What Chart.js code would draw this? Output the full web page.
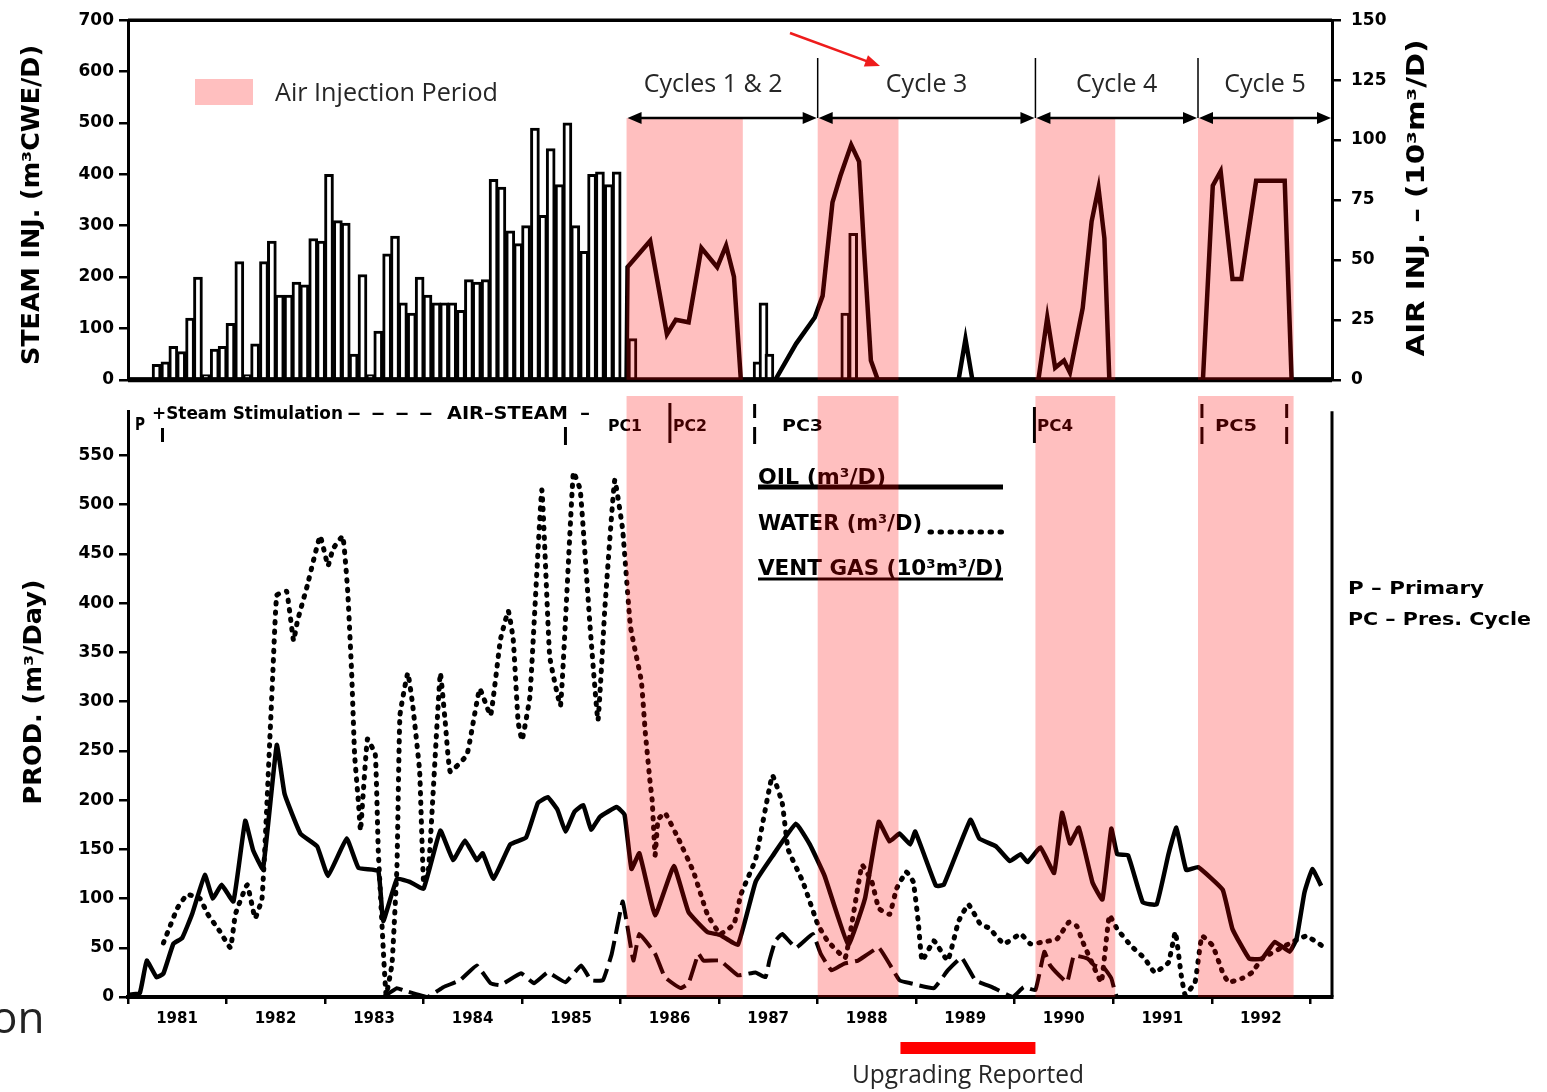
<!DOCTYPE html>
<html>
<head>
<meta charset="utf-8">
<script src="https://cdn.jsdelivr.net/npm/chart.js@4.4.0/dist/chart.umd.min.js"></script>
<style>
  body { margin: 0; background: #fff; width: 1547px; height: 1092px; position: relative; overflow: hidden; }
  canvas { position: absolute; left: 0; }
  #topChart { top: 0; }
  #bottomChart { top: 396px; }
  #on { position: absolute; left: -9px; top: 994px; font: 44px 'Open Sans', sans-serif; line-height: 44px; color: #222; }
</style>
</head>
<body>
<canvas id="topChart" width="1547" height="400"></canvas>
<canvas id="bottomChart" width="1547" height="696"></canvas>
<div id="on">on</div>
<script>
// ---- data ----
const yearTicks = [1981, 1982, 1983, 1984, 1985, 1986, 1987, 1988, 1989, 1990, 1991, 1992, 1993];
const yearNames = ['1981', '1982', '1983', '1984', '1985', '1986', '1987', '1988', '1989', '1990', '1991', '1992'];
const steamTicks = [0, 100, 200, 300, 400, 500, 600, 700];
const airTicks = [0, 25, 50, 75, 100, 125, 150];
const prodTicks = [0, 50, 100, 150, 200, 250, 300, 350, 400, 450, 500, 550];

// steam injection (m3 CWE/D), roughly monthly bars
const steamYears = [
  1981.29, 1981.38, 1981.46, 1981.54, 1981.63, 1981.71, 1981.79, 1981.88, 1981.96,
  1982.04, 1982.13, 1982.21, 1982.29, 1982.38, 1982.46, 1982.54, 1982.63, 1982.71, 1982.79, 1982.88, 1982.96,
  1983.04, 1983.13, 1983.21, 1983.29, 1983.38, 1983.46, 1983.54, 1983.63, 1983.71, 1983.79, 1983.88, 1983.96,
  1984.04, 1984.13, 1984.21, 1984.29, 1984.38, 1984.46, 1984.54, 1984.63, 1984.71, 1984.79, 1984.88, 1984.96,
  1985.04, 1985.13, 1985.21, 1985.29, 1985.38, 1985.46, 1985.54, 1985.63, 1985.71, 1985.79, 1985.88, 1985.96,
  1986.12, 1987.39, 1987.45, 1987.51, 1988.28, 1988.36
];
const steamValues = [
  30, 35, 65, 55, 120, 200, 10, 60, 65,
  110, 230, 10, 70, 230, 270, 165, 165, 190, 185, 275, 270,
  400, 310, 305, 50, 205, 10, 95, 245, 280, 150, 130, 200,
  165, 150, 150, 150, 135, 195, 190, 195, 390, 375, 290, 265,
  300, 490, 320, 450, 380, 500, 300, 250, 400, 405, 380, 405,
  80, 35, 150, 50, 130, 285
];

// air injection (10^3 m3/D)
const airYears = [
  1981.00, 1986.06, 1986.07, 1986.30, 1986.47, 1986.56, 1986.69, 1986.82, 1986.98, 1987.07,
  1987.15, 1987.22, 1987.57, 1987.78, 1987.97, 1988.05, 1988.15, 1988.23, 1988.34, 1988.42,
  1988.47, 1988.54, 1988.61, 1989.43, 1989.50, 1989.57, 1990.24, 1990.33, 1990.41, 1990.50,
  1990.56, 1990.69, 1990.78, 1990.85, 1990.91, 1990.96, 1991.91, 1992.01, 1992.09, 1992.21,
  1992.30, 1992.45, 1992.74, 1992.81, 1993.22
];
const airValues = [
  0, 0, 47, 58, 19, 25, 24, 55, 47, 56,
  43, 0, 0, 15, 26, 35, 74, 85, 98, 91,
  55, 8, 0, 0, 17, 0, 0, 26, 5, 8,
  3, 30, 66, 80, 59, 0, 0, 81, 87, 42,
  42, 83, 83, 0, 0
];

// oil production (m3/D)
const oilYears = [
  1981.00, 1981.12, 1981.19, 1981.29, 1981.36, 1981.46, 1981.55, 1981.65, 1981.78, 1981.86,
  1981.95, 1982.07, 1982.19, 1982.27, 1982.37, 1982.51, 1982.59, 1982.75, 1982.92, 1983.03,
  1983.22, 1983.34, 1983.54, 1983.59, 1983.73, 1983.86, 1984.00, 1984.17, 1984.30, 1984.42,
  1984.54, 1984.60, 1984.71, 1984.88, 1985.04, 1985.16, 1985.26, 1985.36, 1985.44, 1985.53,
  1985.62, 1985.70, 1985.79, 1985.96, 1986.04, 1986.11, 1986.19, 1986.35, 1986.54, 1986.69,
  1986.88, 1987.01, 1987.19, 1987.37, 1987.54, 1987.78, 1987.92, 1988.07, 1988.31, 1988.48,
  1988.62, 1988.73, 1988.83, 1988.94, 1988.99, 1989.20, 1989.28, 1989.55, 1989.64, 1989.81,
  1989.95, 1990.06, 1990.13, 1990.26, 1990.40, 1990.48, 1990.56, 1990.65, 1990.79, 1990.89,
  1990.98, 1991.04, 1991.15, 1991.30, 1991.44, 1991.56, 1991.64, 1991.74, 1991.86, 1992.11,
  1992.21, 1992.38, 1992.51, 1992.64, 1992.79, 1992.86, 1992.94, 1993.02, 1993.11
];
const oilValues = [
  2, 4, 37, 20, 24, 54, 60, 84, 124, 100,
  114, 97, 179, 149, 130, 256, 206, 166, 153, 123,
  161, 131, 128, 77, 120, 117, 110, 169, 139, 159,
  139, 146, 120, 155, 162, 197, 203, 190, 168, 188,
  195, 170, 183, 193, 185, 130, 146, 83, 133, 86,
  66, 63, 53, 117, 143, 176, 155, 123, 53, 100,
  178, 158, 166, 155, 168, 113, 114, 180, 161, 153,
  138, 145, 137, 152, 126, 187, 156, 172, 116, 99,
  171, 145, 144, 96, 94, 145, 172, 129, 132, 109,
  69, 39, 39, 56, 46, 59, 106, 130, 113
];

// water production (m3/D)
const waterYears = [
  1981.36, 1981.50, 1981.60, 1981.73, 1981.81, 1981.93, 1982.04, 1982.09, 1982.21, 1982.29,
  1982.36, 1982.41, 1982.44, 1982.47, 1982.51, 1982.61, 1982.68, 1982.72, 1982.82, 1982.95,
  1983.03, 1983.08, 1983.18, 1983.23, 1983.27, 1983.30, 1983.34, 1983.36, 1983.43, 1983.51,
  1983.54, 1983.59, 1983.62, 1983.68, 1983.73, 1983.76, 1983.84, 1983.89, 1983.96, 1984.00,
  1984.05, 1984.10, 1984.17, 1984.22, 1984.27, 1984.44, 1984.57, 1984.68, 1984.78, 1984.86,
  1984.91, 1984.96, 1985.00, 1985.08, 1985.20, 1985.28, 1985.39, 1985.52, 1985.59, 1985.69,
  1985.77, 1985.84, 1985.94, 1986.02, 1986.10, 1986.21, 1986.25, 1986.30, 1986.32, 1986.35,
  1986.38, 1986.45, 1986.59, 1986.74, 1986.88, 1987.01, 1987.15, 1987.22, 1987.37, 1987.54,
  1987.64, 1987.70, 1987.85, 1988.00, 1988.10, 1988.28, 1988.45, 1988.55, 1988.62, 1988.73,
  1988.80, 1988.90, 1988.97, 1989.02, 1989.06, 1989.18, 1989.32, 1989.43, 1989.53, 1989.65,
  1989.74, 1989.89, 1990.06, 1990.16, 1990.30, 1990.43, 1990.55, 1990.63, 1990.69, 1990.81,
  1990.88, 1990.96, 1991.04, 1991.18, 1991.32, 1991.42, 1991.56, 1991.63, 1991.69, 1991.73,
  1991.83, 1991.90, 1992.01, 1992.11, 1992.17, 1992.31, 1992.41, 1992.51, 1992.82, 1992.96, 1993.12
];
const waterValues = [
  55, 90, 104, 100, 84, 67, 50, 84, 114, 80,
  100, 196, 263, 329, 408, 412, 362, 382, 418, 468,
  438, 455, 468, 412, 329, 246, 196, 169, 262, 246,
  149, 50, 2, 34, 133, 286, 329, 296, 229, 116,
  130, 213, 329, 279, 229, 246, 313, 286, 363, 392,
  363, 279, 261, 306, 515, 346, 296, 533, 515, 376,
  281, 395, 525, 475, 376, 321, 269, 217, 200, 144,
  180, 187, 160, 127, 84, 64, 74, 104, 140, 225,
  197, 150, 117, 74, 57, 40, 134, 117, 90, 84,
  110, 127, 117, 77, 37, 57, 37, 77, 94, 74,
  70, 54, 64, 54, 56, 59, 76, 72, 56, 29,
  15, 83, 69, 52, 39, 25, 35, 66, 22, 2,
  15, 62, 52, 25, 15, 19, 25, 39, 56, 62, 52
];

// vent gas (10^3 m3/D)
const ventYears = [
  1983.59, 1983.73, 1983.79, 1984.04, 1984.20, 1984.37, 1984.54, 1984.68, 1984.78, 1984.99,
  1985.12, 1985.26, 1985.44, 1985.60, 1985.70, 1985.82, 1985.91, 1986.02, 1986.06, 1986.13,
  1986.19, 1986.35, 1986.45, 1986.61, 1986.69, 1986.79, 1986.84, 1987.01, 1987.19, 1987.37,
  1987.47, 1987.51, 1987.57, 1987.64, 1987.78, 1987.95, 1988.03, 1988.14, 1988.27, 1988.41,
  1988.62, 1988.83, 1988.94, 1989.18, 1989.32, 1989.46, 1989.60, 1989.77, 1989.98, 1990.09,
  1990.21, 1990.30, 1990.36, 1990.53, 1990.60, 1990.74, 1990.81, 1990.91, 1990.98, 1991.04,
  1991.45
];
const ventValues = [
  0, 9, 7, 0, 10, 17, 32, 14, 12, 24,
  14, 25, 15, 32, 17, 17, 44, 97, 77, 37,
  64, 44, 20, 9, 14, 44, 37, 37, 22, 25,
  20, 37, 57, 64, 50, 64, 44, 27, 34, 37,
  50, 17, 14, 9, 27, 40, 17, 10, 0, 10,
  7, 46, 32, 15, 42, 39, 32, 29, 19, 0,
  0
];

// air injection periods and production cycles
const bandStart = [1986.06, 1988.00, 1990.21, 1991.86];
const bandEnd = [1987.24, 1988.82, 1991.02, 1992.83];
const cycleEdges = [1986.06, 1988.00, 1990.21, 1991.86, 1993.22];
const cycleNames = ['Cycles 1 & 2', 'Cycle 3', 'Cycle 4', 'Cycle 5'];
const phaseMarks = [1981.35, 1985.44, 1986.50, 1990.20];
const phaseMarksDashed = [1987.36, 1991.90, 1992.76];
const upgradingSpan = [1988.84, 1990.21];

const X_MIN = 1981, X_MAX = 1993.22;
const OFF = 396; // page offset of the lower canvas
const BAND_FILL = 'rgba(255,0,0,0.25)';
const SCAN = '"DejaVu Sans Condensed", "DejaVu Sans", sans-serif';
const SLIDE = '"Open Sans", sans-serif';

Chart.defaults.font.family = 'DejaVu Sans';
Chart.defaults.color = '#000';

function pts(xs, ys) {
  return xs.map((x, i) => ({ x: x, y: ys[i] }));
}

function fitText(ctx, text, x, y, w, align) {
  const m = ctx.measureText(text).width;
  ctx.save();
  ctx.translate(align === 'center' ? x - w / 2 : x, y);
  ctx.scale(w / m, 1);
  ctx.textAlign = 'left';
  ctx.fillText(text, 0, 0);
  ctx.restore();
}

function vText(ctx, text, cx, cy, w) {
  ctx.save();
  ctx.translate(cx, cy);
  ctx.rotate(-Math.PI / 2);
  ctx.textBaseline = 'middle';
  fitText(ctx, text, 0, 0, w, 'center');
  ctx.restore();
}

function line(ctx, x1, y1, x2, y2) {
  ctx.beginPath();
  ctx.moveTo(x1, y1);
  ctx.lineTo(x2, y2);
  ctx.stroke();
}

function arrowHead(ctx, x, y, ang, len, half) {
  const c = Math.cos(ang), s = Math.sin(ang);
  ctx.beginPath();
  ctx.moveTo(x, y);
  ctx.lineTo(x - len * c + half * s, y - len * s - half * c);
  ctx.lineTo(x - len * c - half * s, y - len * s + half * c);
  ctx.closePath();
  ctx.fill();
}

const axisGrid = { drawOnChartArea: false, drawTicks: true, tickLength: 9, color: '#000', lineWidth: 2.5 };
const axisBorder = { color: '#000', width: 3 };
const tickFont = { family: 'DejaVu Sans', weight: 'bold', size: 17 };

// ---------- upper panel ----------
const topDecor = {
  id: 'topDecor',
  afterDatasetsDraw(chart) {
    const { ctx, chartArea: a, scales: { x } } = chart;
    ctx.save();
    ctx.strokeStyle = '#000';
    ctx.lineWidth = 3.5;
    line(ctx, a.left, a.top, a.right, a.top);
    ctx.lineWidth = 5;
    line(ctx, a.left, a.bottom, a.right, a.bottom);

    ctx.fillStyle = BAND_FILL;
    bandStart.forEach((b, i) => {
      const x0 = x.getPixelForValue(b), x1 = x.getPixelForValue(bandEnd[i]);
      ctx.fillRect(x0, 118, x1 - x0, a.bottom - 118);
    });
    ctx.restore();
  },
  afterDraw(chart) {
    const { ctx, chartArea: a, scales: { x } } = chart;
    ctx.save();
    ctx.fillStyle = '#000';
    ctx.font = 'bold 24px ' + SCAN;
    vText(ctx, 'STEAM INJ. (m³CWE/D)', 33, 205, 320);
    vText(ctx, 'AIR INJ. – (10³m³/D)', 1418, 198, 317);

    // cycle arrows
    const ay = 118;
    ctx.strokeStyle = '#000';
    ctx.fillStyle = '#000';
    ctx.lineWidth = 1.5;
    for (let i = 1; i < cycleEdges.length - 1; i++) {
      const px = x.getPixelForValue(cycleEdges[i]);
      line(ctx, px, 58, px, ay);
    }
    ctx.lineWidth = 2.5;
    ctx.font = '25px ' + SLIDE;
    ctx.textAlign = 'center';
    for (let i = 0; i < cycleNames.length; i++) {
      const x0 = x.getPixelForValue(cycleEdges[i]) + 1;
      const x1 = Math.min(x.getPixelForValue(cycleEdges[i + 1]), a.right) - 1;
      line(ctx, x0 + 8, ay, x1 - 8, ay);
      arrowHead(ctx, x1, ay, 0, 14, 6);
      arrowHead(ctx, x0, ay, Math.PI, 14, 6);
      ctx.fillStyle = '#262626';
      ctx.fillText(cycleNames[i], (x0 + x1) / 2 - (i === 0 ? 9 : 0), 92);
      ctx.fillStyle = '#000';
    }

    // red pointer
    ctx.strokeStyle = '#ee1c1c';
    ctx.fillStyle = '#ee1c1c';
    ctx.lineWidth = 2.5;
    const ang = Math.atan2(66 - 33, 880 - 790);
    line(ctx, 790, 33, 870, 62.3);
    arrowHead(ctx, 880, 66, ang, 15, 6);

    // legend for the shaded periods
    ctx.fillStyle = '#ffbfbf';
    ctx.fillRect(195, 79, 58, 26);
    ctx.fillStyle = '#262626';
    ctx.font = '25px ' + SLIDE;
    fitText(ctx, 'Air Injection Period', 275, 101, 223);
    ctx.restore();
  }
};

new Chart(document.getElementById('topChart'), {
  type: 'bar',
  data: {
    datasets: [
      {
        type: 'bar',
        label: 'Steam injection',
        data: pts(steamYears, steamValues),
        yAxisID: 'ySteam',
        backgroundColor: '#fff',
        borderColor: '#000',
        borderWidth: 3,
        barThickness: 9,
        order: 2
      },
      {
        type: 'line',
        label: 'Air injection',
        data: pts(airYears, airValues),
        yAxisID: 'yAir',
        borderColor: '#000',
        borderWidth: 4.5,
        pointRadius: 0,
        tension: 0,
        order: 1
      }
    ]
  },
  options: {
    responsive: false,
    animation: false,
    devicePixelRatio: 1,
    layout: { padding: { top: 20, bottom: 4, left: 0, right: 0 } },
    plugins: { legend: { display: false }, tooltip: { enabled: false } },
    scales: {
      x: { type: 'linear', min: X_MIN, max: X_MAX, offset: false, display: false },
      ySteam: {
        position: 'left', min: 0, max: 700,
        afterBuildTicks: s => { s.ticks = steamTicks.map(v => ({ value: v })); },
        afterFit: s => { s.width = 128; },
        ticks: { font: tickFont, color: '#000', padding: 5 },
        grid: axisGrid, border: axisBorder
      },
      yAir: {
        position: 'right', min: 0, max: 150,
        afterBuildTicks: s => { s.ticks = airTicks.map(v => ({ value: v })); },
        afterFit: s => { s.width = 1547 - 1332; },
        ticks: { font: tickFont, color: '#000', padding: 10 },
        grid: axisGrid, border: axisBorder
      }
    }
  },
  plugins: [topDecor]
});

// ---------- lower panel ----------
const bottomDecor = {
  id: 'bottomDecor',
  afterDatasetsDraw(chart) {
    const { ctx, chartArea: a, scales: { x } } = chart;
    const Y = py => py - OFF;
    ctx.save();
    ctx.strokeStyle = '#000';
    ctx.fillStyle = '#000';
    ctx.lineWidth = 3;
    line(ctx, a.right, a.top, a.right, a.bottom);

    // phase labels under the injection panel
    ctx.font = 'bold 17px ' + SCAN;
    fitText(ctx, 'P', 135, Y(430), 10);
    fitText(ctx, '+Steam Stimulation', 152, Y(419), 191);
    fitText(ctx, '– – – –', 347, Y(419), 86);
    fitText(ctx, 'AIR–STEAM', 447, Y(419), 121);
    fitText(ctx, '–', 580, Y(419), 10);
    ctx.font = 'bold 15px ' + SCAN;
    fitText(ctx, 'PC1', 608, Y(431), 34);
    fitText(ctx, 'PC2', 673, Y(431), 34);
    fitText(ctx, 'PC3', 782, Y(431), 41);
    fitText(ctx, 'PC4', 1037, Y(431), 36);
    fitText(ctx, 'PC5', 1215, Y(431), 42);
    ctx.lineWidth = 3;
    const tops = [428, 427, 403, 407];
    const bots = [442, 445, 443, 443];
    phaseMarks.forEach((m, i) => {
      const px = x.getPixelForValue(m);
      line(ctx, px, Y(tops[i]), px, Y(bots[i]));
    });
    phaseMarksDashed.forEach(m => {
      const px = x.getPixelForValue(m);
      line(ctx, px, Y(404), px, Y(418));
      line(ctx, px, Y(427), px, Y(444));
    });

    // series key
    ctx.font = 'bold 21px ' + SCAN;
    fitText(ctx, 'OIL (m³/D)', 758, Y(484), 128);
    ctx.lineWidth = 5;
    line(ctx, 758, Y(487), 1003, Y(487));
    fitText(ctx, 'WATER (m³/D)', 758, Y(530), 164);
    ctx.save();
    ctx.lineCap = 'round';
    ctx.setLineDash([1.5, 8.5]);
    ctx.lineWidth = 5;
    line(ctx, 930, Y(532), 1003, Y(532));
    ctx.restore();
    fitText(ctx, 'VENT GAS (10³m³/D)', 758, Y(575), 245);
    ctx.lineWidth = 3;
    line(ctx, 758, Y(579), 1003, Y(579));

    ctx.font = 'bold 18px ' + SCAN;
    fitText(ctx, 'P – Primary', 1348, Y(594), 136);
    fitText(ctx, 'PC – Pres. Cycle', 1348, Y(625), 183);

    // air injection periods
    ctx.fillStyle = BAND_FILL;
    bandStart.forEach((b, i) => {
      const x0 = x.getPixelForValue(b), x1 = x.getPixelForValue(bandEnd[i]);
      ctx.fillRect(x0, 0, x1 - x0, a.bottom);
    });
    ctx.restore();
  },
  afterDraw(chart) {
    const { ctx, scales: { x } } = chart;
    const Y = py => py - OFF;
    ctx.save();
    ctx.fillStyle = '#000';
    ctx.font = 'bold 24px ' + SCAN;
    vText(ctx, 'PROD. (m³/Day)', 35, Y(692), 225);

    const u0 = x.getPixelForValue(upgradingSpan[0]), u1 = x.getPixelForValue(upgradingSpan[1]);
    ctx.fillStyle = '#ff0000';
    ctx.fillRect(u0, Y(1042), u1 - u0, 12);
    ctx.fillStyle = '#262626';
    ctx.font = '25px ' + SLIDE;
    fitText(ctx, 'Upgrading Reported', (u0 + u1) / 2, Y(1083), 232, 'center');
    ctx.restore();
  }
};

new Chart(document.getElementById('bottomChart'), {
  type: 'line',
  data: {
    datasets: [
      {
        label: 'OIL (m³/D)',
        data: pts(oilYears, oilValues),
        borderColor: '#000',
        borderWidth: 4.5,
        pointRadius: 0,
        tension: 0.1
      },
      {
        label: 'WATER (m³/D)',
        data: pts(waterYears, waterValues),
        borderColor: '#000',
        borderWidth: 5,
        borderDash: [1.5, 8],
        borderCapStyle: 'round',
        pointRadius: 0,
        tension: 0.1
      },
      {
        label: 'VENT GAS (10³m³/D)',
        data: pts(ventYears, ventValues),
        borderColor: '#000',
        borderWidth: 4,
        borderDash: [22, 7],
        pointRadius: 0,
        tension: 0.1
      }
    ]
  },
  options: {
    responsive: false,
    animation: false,
    devicePixelRatio: 1,
    layout: { padding: { top: 4, right: 215, left: 0, bottom: 0 } },
    plugins: { legend: { display: false }, tooltip: { enabled: false } },
    scales: {
      x: {
        type: 'linear', min: X_MIN, max: X_MAX, offset: false,
        afterBuildTicks: s => { s.ticks = yearTicks.map(v => ({ value: v })); },
        afterFit: s => { s.height = 95; },
        ticks: {
          font: { family: 'DejaVu Sans', weight: 'bold', size: 15 },
          color: '#000',
          labelOffset: 49,
          padding: 6,
          maxRotation: 0,
          autoSkip: false,
          callback: (v, i) => yearNames[i] || ''
        },
        grid: { drawOnChartArea: false, drawTicks: true, tickLength: 7, color: '#000', lineWidth: 2.5 },
        border: { color: '#000', width: 4 }
      },
      y: {
        position: 'left', min: 0, max: 595,
        afterBuildTicks: s => { s.ticks = prodTicks.map(v => ({ value: v })); },
        afterFit: s => { s.width = 128; },
        ticks: { font: tickFont, color: '#000', padding: 5 },
        grid: axisGrid, border: axisBorder
      }
    }
  },
  plugins: [bottomDecor]
});
</script>
</body>
</html>
